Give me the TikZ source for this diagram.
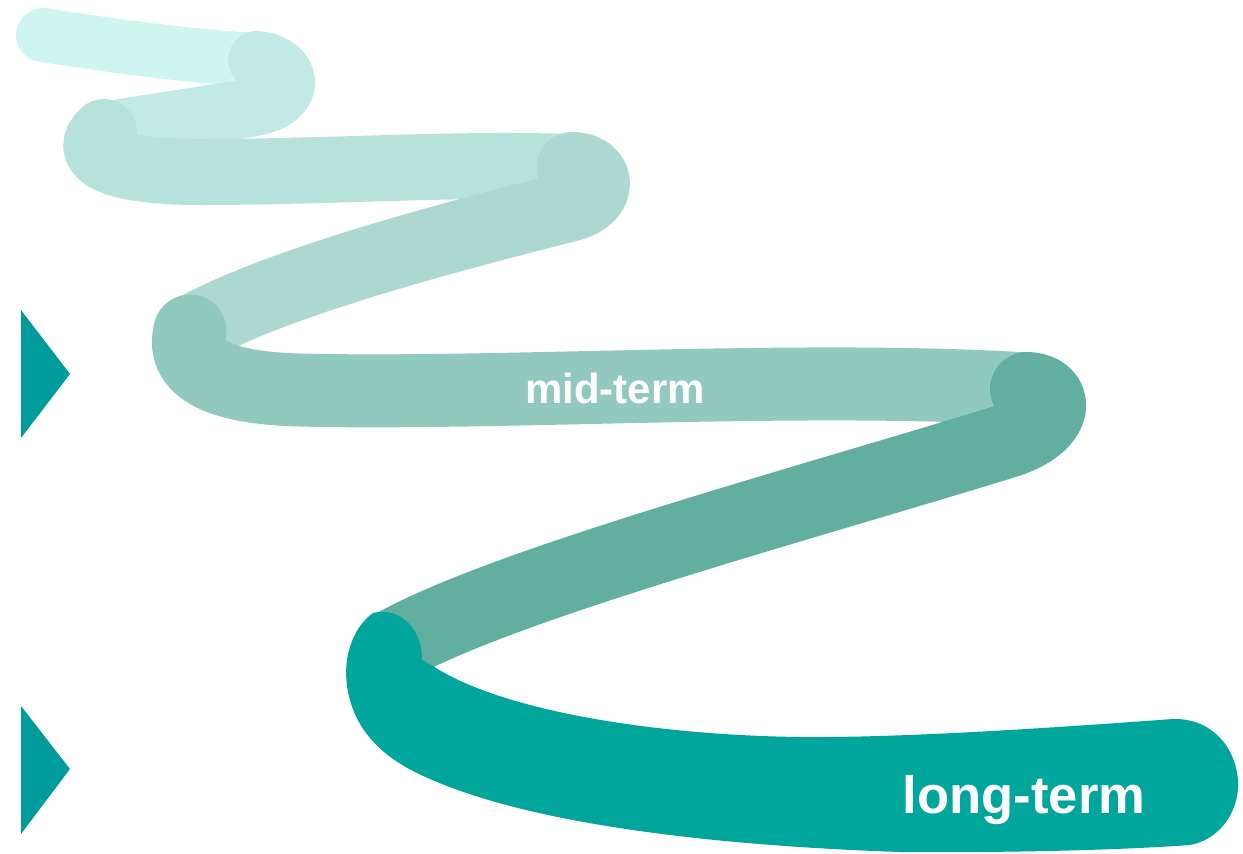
\documentclass[tikz,border=0pt]{standalone}
\usepackage{fontspec}
\setmainfont{Liberation Sans}
\definecolor{segA}{HTML}{CFF5F1}
\definecolor{segB}{HTML}{C2E9E3}
\definecolor{segC}{HTML}{B7E1DB}
\definecolor{segD}{HTML}{ACD8D1}
\definecolor{segE}{HTML}{92C9BE}
\definecolor{segF}{HTML}{62AF9F}
\definecolor{segG}{HTML}{00A69B}
\definecolor{marker}{HTML}{009C9B}
\begin{document}
\begin{tikzpicture}[x=0.5pt,y=-0.5pt,
  band/.style={line cap=round, line join=round},
  tag/.style={text=white, inner sep=0pt, anchor=base},
  pointer/.style={fill=marker}]
\fill[white] (0,0) rectangle (1243,853);
\useasboundingbox (0,0) rectangle (1243,853);

% winding ribbon, drawn from the far (light) end to the near (dark) end
\draw[band, segA, line width=27pt] (43,35) .. controls (120,47) and (190,56) .. (257,60);
\draw[band, segB, line width=29pt] (257,60) .. controls (292,63) and (300,98) .. (255,107)
  .. controls (200,116) and (150,123) .. (104,131);
\draw[band, segC, line width=33pt] (104,132) .. controls (82,152) and (105,172) .. (200,172)
  .. controls (330,172) and (450,163) .. (572,167);
\draw[band, segD, line width=35pt] (572,167) .. controls (600,167) and (605,196) .. (572,206)
  .. controls (470,232) and (280,280) .. (190,331);
\draw[band, segE, line width=36.5pt] (190,331) .. controls (180,368) and (218,388) .. (300,390)
  .. controls (500,395) and (800,375) .. (1027,389);
\draw[band, segF, line width=37pt] (1027,389) .. controls (1058,390) and (1060,422) .. (1010,440)
  .. controls (800,505) and (500,585) .. (390,648);

% last, widening stretch with its rounded end
\fill[segG] (433,666) -- (422,660)
  .. controls (423,630) and (400,606) .. (373,613)
  .. controls (350,630) and (340,665) .. (350,700)
  .. controls (358,730) and (380,755) .. (417,773)
  .. controls (517,822) and (700,845) .. (900,852)
  .. controls (1050,853) and (1150,848) .. (1190,845)
  .. controls (1225,838) and (1240,805) .. (1238,780)
  .. controls (1235,745) and (1210,718) .. (1173,719)
  .. controls (1050,728) and (900,738) .. (800,737)
  .. controls (650,735) and (500,710) .. (433,666)
  -- cycle;

% labels
\node[tag, font=\bfseries\fontsize{21}{25}\selectfont] (mid) at (615,403) {mid-term};
\node[tag, font=\bfseries\fontsize{26.3}{31}\selectfont] (long) at (1024,813) {long-term};

% side markers
\fill[pointer] (21,310) -- (21,438) -- (70,374) -- cycle;
\fill[pointer] (21,706) -- (21,834) -- (70,769) -- cycle;
\end{tikzpicture}
\end{document}
